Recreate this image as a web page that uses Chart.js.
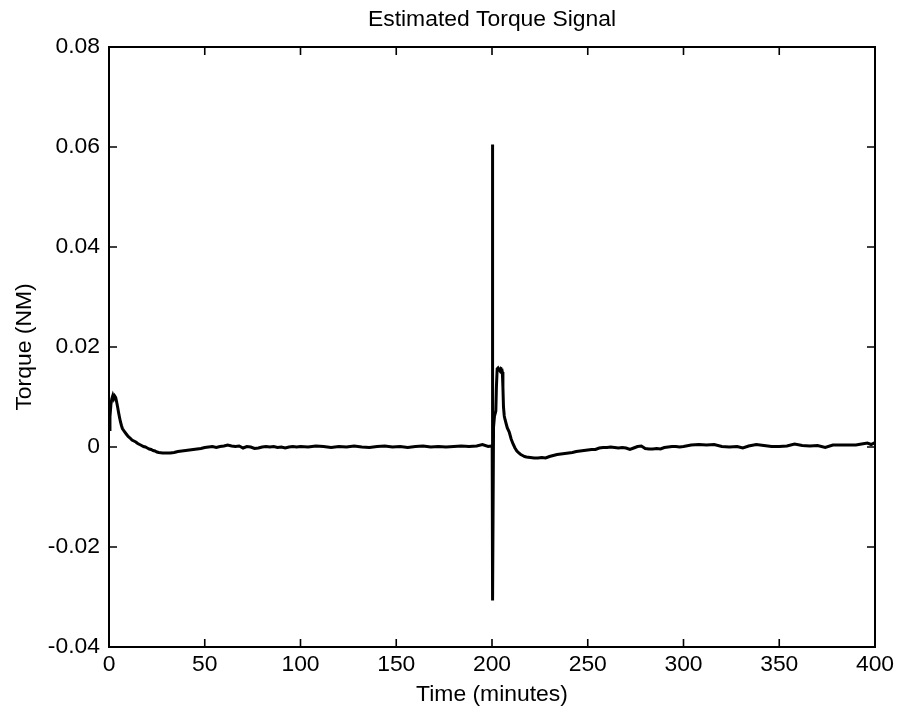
<!DOCTYPE html>
<html>
<head>
<meta charset="utf-8">
<script src="https://cdn.jsdelivr.net/npm/chart.js@4"></script>
<style>
html,body{margin:0;padding:0;background:#fff;}
canvas{display:block;}
</style>
</head>
<body>
<canvas id="c" width="899" height="713"></canvas>
<script>
// ---- data ----
const timeMin = [
0,0.5,1,1.5,2,2.5,3,3.5,4,4.5,5,5.5,6,6.5,7,8,9,10,11,12,13,14,15,16,17,18,19,20,
21,22,23,24,25,26,28,30,32,34,36,38,40,42,44,46,48,50,52,54,56,58,60,62,64,66,68,70,
72,74,76,78,80,82,84,86,88,90,92,94,96,98,100,104,108,112,116,120,124,128,132,136,140,
144,148,152,156,160,164,168,172,176,180,184,188,192,195,198,199.5,200.1,200.2,200.4,
200.8,201.3,202,202.3,202.7,203.2,203.7,204.2,204.7,205.1,205.4,205.7,206,206.4,206.8,
207.5,208,209,210,211,212,213,214,215,216,217,218,220,222,224,226,228,230,232,234,236,
238,240,242,244,246,248,250,252,254,256,258,260,262,264,266,268,270,272,274,276,278,
280,282,284,286,288,290,292,294,296,298,300,304,308,312,316,320,324,328,331,334,338,
342,346,350,354,358,362,366,370,374,378,382,386,390,393,396,398,400
];
const torqueNm = [
0.0035,0.0060,0.0085,0.0097,0.0103,0.0097,0.0102,0.0099,0.0090,0.0080,0.0069,0.0059,0.0050,0.0043,0.0037,0.0031,0.0026,0.0021,0.0018,0.0014,0.0012,0.0010,0.0007,0.0005,0.0003,0.0001,0.0000,-0.0002,
-0.0004,-0.0005,-0.0007,-0.0008,-0.0010,-0.0011,-0.0012,-0.0012,-0.0012,-0.0011,-0.0009,-0.0008,-0.0007,-0.0006,-0.0005,-0.0004,-0.0003,-0.0001,0.0000,0.0001,-0.0001,0.0001,0.0002,0.0004,0.0002,0.0001,0.0002,-0.0002,
0.0001,0.0000,-0.0003,-0.0002,0.0000,0.0001,0.0000,0.0001,-0.0001,0.0000,-0.0002,0.0000,0.0001,0.0000,0.0001,0.0000,0.0002,0.0001,-0.0001,0.0001,0.0000,0.0002,0.0000,-0.0001,0.0001,
0.0002,0.0000,0.0001,-0.0001,0.0001,0.0002,0.0000,0.0001,0.0000,0.0001,0.0002,0.0001,0.0002,0.0005,0.0001,0.0002,0.0003,0.0605,-0.0307,
0.0040,0.0062,0.0072,0.0120,0.0156,0.0158,0.0155,0.0152,0.0157,0.0156,0.0150,0.0120,0.0080,0.0062,0.0055,
0.0045,0.0038,0.0030,0.0016,0.0006,-0.0002,-0.0008,-0.0012,-0.0015,-0.0017,-0.0019,-0.0020,-0.0021,-0.0022,-0.0022,-0.0021,-0.0022,-0.0019,-0.0017,-0.0015,-0.0014,
-0.0013,-0.0012,-0.0011,-0.0009,-0.0008,-0.0007,-0.0006,-0.0005,-0.0005,-0.0002,-0.0001,-0.0001,0.0000,-0.0001,-0.0002,-0.0001,-0.0002,-0.0005,-0.0002,0.0001,0.0002,
-0.0003,-0.0004,-0.0004,-0.0003,-0.0004,-0.0001,0.0000,0.0001,0.0001,0.0000,0.0001,0.0004,0.0005,0.0004,0.0005,0.0001,0.0000,0.0001,-0.0002,0.0002,0.0005,
0.0003,0.0001,0.0001,0.0002,0.0006,0.0003,0.0002,0.0003,-0.0001,0.0004,0.0004,0.0004,0.0004,0.0006,0.0008,0.0005,0.0009
];
const xTickLabels = ['0','50','100','150','200','250','300','350','400'];
const yTickLabels = ['-0.04','-0.02','0','0.02','0.04','0.06','0.08'];
const titleText = 'Estimated Torque Signal';
const xTitle = 'Time (minutes)';
const yTitle = 'Torque (NM)';

// ---- font sizing (fit title width seen in the reference) ----
const family = "'Liberation Sans Narrow', 'Arial Narrow', 'Liberation Sans', Arial, sans-serif";
const mctx = document.createElement('canvas').getContext('2d');
mctx.font = '100px ' + family;
const S = Math.round(100 * 248 / mctx.measureText(titleText).width * 10) / 10;
const LH = 1.2 * S;

const frameTicks = {
  id: 'frameTicks',
  beforeDraw(chart) {
    const c = chart.ctx;
    c.save(); c.fillStyle = '#fff'; c.fillRect(0, 0, chart.width, chart.height); c.restore();
  },
  afterDraw(chart) {
    const c = chart.ctx, a = chart.chartArea, xs = chart.scales.x, ys = chart.scales.y;
    const L = 8;
    c.save();
    c.strokeStyle = '#000';
    c.lineWidth = 1.6;
    c.beginPath();
    xs.ticks.forEach(t => {
      const p = xs.getPixelForValue(t.value);
      c.moveTo(p, a.bottom); c.lineTo(p, a.bottom - L);
      c.moveTo(p, a.top); c.lineTo(p, a.top + L);
    });
    ys.ticks.forEach(t => {
      const p = ys.getPixelForValue(t.value);
      c.moveTo(a.left, p); c.lineTo(a.left + L, p);
      c.moveTo(a.right, p); c.lineTo(a.right - L, p);
    });
    c.stroke();
    c.lineWidth = 2;
    c.strokeRect(a.left, a.top, a.right - a.left, a.bottom - a.top);
    c.restore();
  }
};

Chart.defaults.color = '#000';
Chart.defaults.font.family = family;

new Chart(document.getElementById('c'), {
  type: 'line',
  data: {
    datasets: [{
      data: timeMin.map((t, i) => ({x: t, y: torqueNm[i]})),
      borderColor: '#000',
      borderWidth: 3,
      pointRadius: 0,
      tension: 0,
      fill: false
    }]
  },
  options: {
    responsive: false,
    animation: false,
    devicePixelRatio: 1,
    layout: {padding: {left: 0, right: 24, top: 0, bottom: 0}},
    plugins: {
      legend: {display: false},
      tooltip: {enabled: false},
      title: {
        display: true,
        fullSize: false,
        text: titleText,
        color: '#000',
        font: {size: S, weight: 'normal', lineHeight: 1.2},
        padding: {top: 19.5 - LH / 2, bottom: 47 - (19.5 - LH / 2) - LH}
      }
    },
    scales: {
      x: {
        type: 'linear',
        min: 0, max: 400,
        grid: {display: false, drawTicks: false},
        border: {display: false},
        ticks: {
          stepSize: 50,
          padding: 665 - 647 - LH / 2,
          font: {size: S, lineHeight: 1.2},
          maxRotation: 0,
          callback: (v, i) => xTickLabels[i]
        },
        title: {
          display: true, text: xTitle,
          font: {size: S, lineHeight: 1.2},
          padding: {top: 0, bottom: 713 - 694.5 - LH / 2}
        },
        afterFit: s => { s.height = 66; }
      },
      y: {
        type: 'linear',
        min: -0.04, max: 0.08,
        grid: {display: false, drawTicks: false},
        border: {display: false},
        ticks: {
          stepSize: 0.02,
          padding: 9,
          font: {size: S, lineHeight: 1.2},
          callback: (v, i) => yTickLabels[i]
        },
        title: {
          display: true, text: yTitle,
          font: {size: S, lineHeight: 1.2},
          padding: {top: 25 - LH / 2, bottom: 0}
        },
        afterFit: s => { s.width = 109; }
      }
    }
  },
  plugins: [frameTicks]
});
</script>
</body>
</html>
